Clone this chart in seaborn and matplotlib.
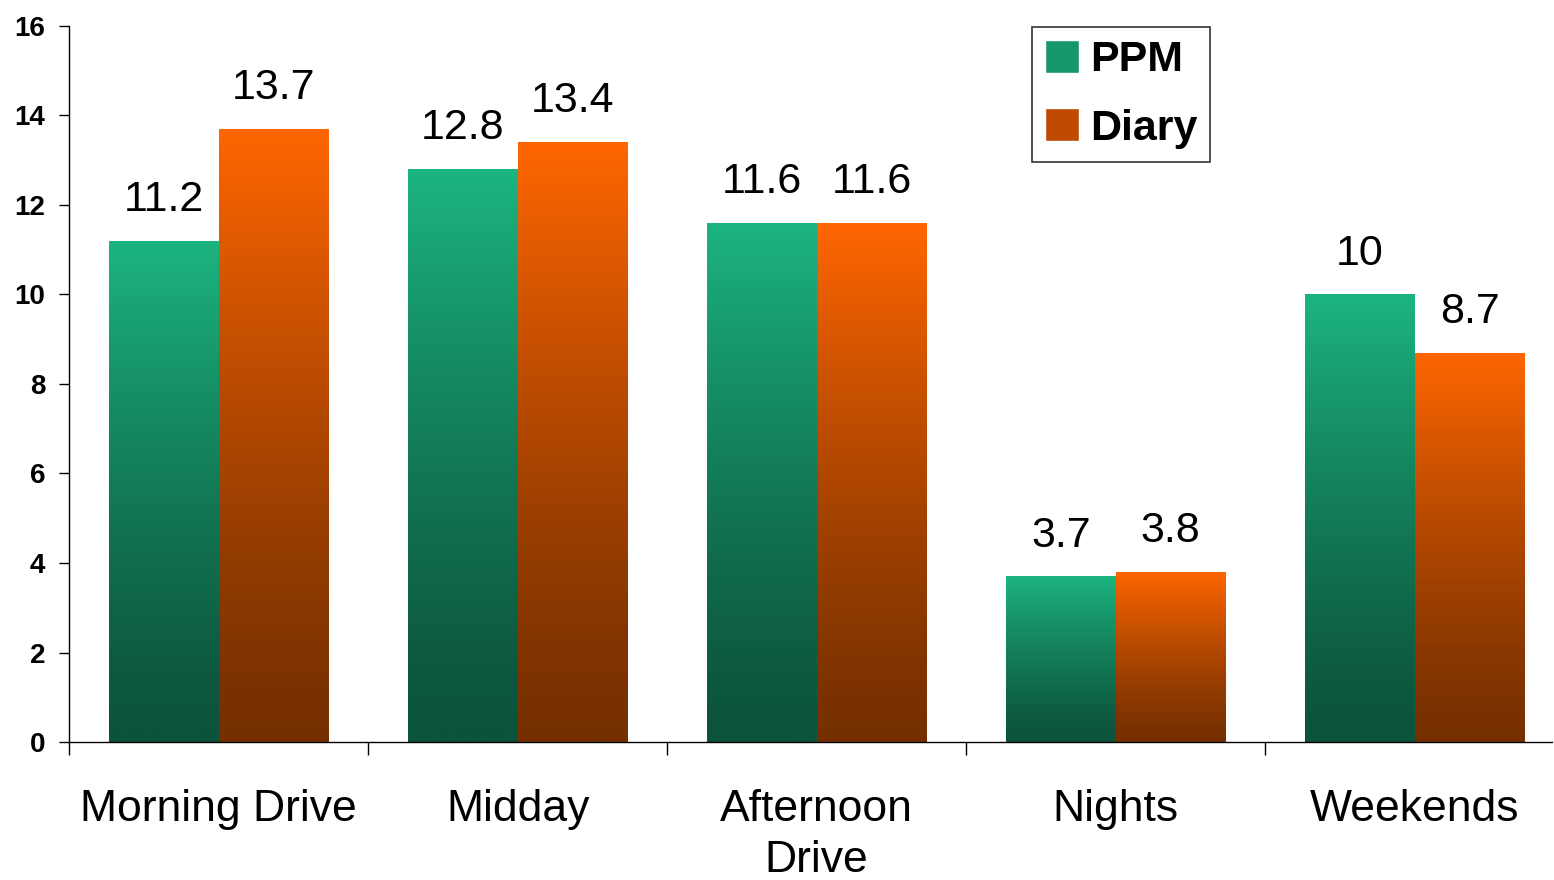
import numpy as np
import pandas as pd
import seaborn as sns
import matplotlib.pyplot as plt
from matplotlib.colors import LinearSegmentedColormap
from matplotlib.patches import Patch

categories = ["Morning Drive", "Midday", "Afternoon\nDrive", "Nights", "Weekends"]
ppm = [11.2, 12.8, 11.6, 3.7, 10]
diary = [13.7, 13.4, 11.6, 3.8, 8.7]
series = ["PPM", "Diary"]

df = pd.DataFrame({
    "slot": categories * 2,
    "value": ppm + diary,
    "method": ["PPM"] * len(ppm) + ["Diary"] * len(diary),
})

sns.set_theme(style="white")
plt.rcParams["font.family"] = ["Liberation Sans", "DejaVu Sans"]
plt.rcParams["text.color"] = "black"
plt.rcParams["xtick.color"] = "black"
plt.rcParams["ytick.color"] = "black"

top_cols = {"PPM": "#1cb47f", "Diary": "#ff6600"}
bot_cols = {"PPM": "#0c533b", "Diary": "#763000"}

fig = plt.figure(figsize=(15.54, 8.8), dpi=100)
ax = fig.add_axes([0.0444, 0.1568, 0.9546, 0.8137])

sns.barplot(data=df, x="slot", y="value", hue="method", hue_order=series,
            palette=top_cols, width=0.735, ax=ax, legend=False,
            edgecolor="white", linewidth=1)

# vertical gradient inside each bar
grad = np.linspace(0, 1, 256) ** 1.3
grad = grad[::-1].reshape(-1, 1)
for cont, name in zip(ax.containers, series):
    cmap = LinearSegmentedColormap.from_list(name, [bot_cols[name], top_cols[name]])
    for bar in cont:
        x0, y0 = bar.get_x(), bar.get_y()
        w, h = bar.get_width(), bar.get_height()
        im = ax.imshow(grad, cmap=cmap, vmin=0, vmax=1, aspect="auto",
                       extent=(x0, x0 + w, y0, y0 + h), origin="upper", zorder=bar.get_zorder())
        im.set_clip_path(bar)
    ax.bar_label(cont, labels=[f"{v:g}" for v in cont.datavalues],
                 padding=15, fontsize=31, color="black")
ax.set_xlim(-0.5, 4.46)
ax.set_ylim(0, 16)

ax.set_xlabel("")
ax.set_ylabel("")
ax.set_yticks(range(0, 17, 2))
ax.tick_params(axis="y", left=True, length=7, width=1, labelsize=20, pad=10)
for t in ax.get_yticklabels():
    t.set_fontweight("bold")
ax.set_xticks(range(5))
ax.set_xticklabels(categories, fontsize=32, linespacing=1.3)
ax.tick_params(axis="x", which="major", length=0, pad=34)
ax.set_xticks([-0.5, 0.5, 1.5, 2.5, 3.5], minor=True)
ax.tick_params(axis="x", which="minor", bottom=True, length=9, width=1)

sns.despine(ax=ax)
for s in ["left", "bottom"]:
    ax.spines[s].set_color("black")
    ax.spines[s].set_linewidth(1)

handles = [Patch(facecolor="#17966a", edgecolor="white", label="PPM"),
           Patch(facecolor="#c04a00", edgecolor="white", label="Diary")]
leg = ax.legend(handles=handles, loc="upper left", bbox_to_anchor=(0.649, 0.9985),
                prop={"size": 31, "weight": "bold"}, frameon=True, fancybox=False,
                handlelength=0.8, handleheight=0.8, handletextpad=0.25,
                borderpad=0.3, labelspacing=0.65, borderaxespad=0)
leg.get_frame().set_edgecolor("black")
leg.get_frame().set_linewidth(1.2)

fig.savefig("out.png", dpi=100)
